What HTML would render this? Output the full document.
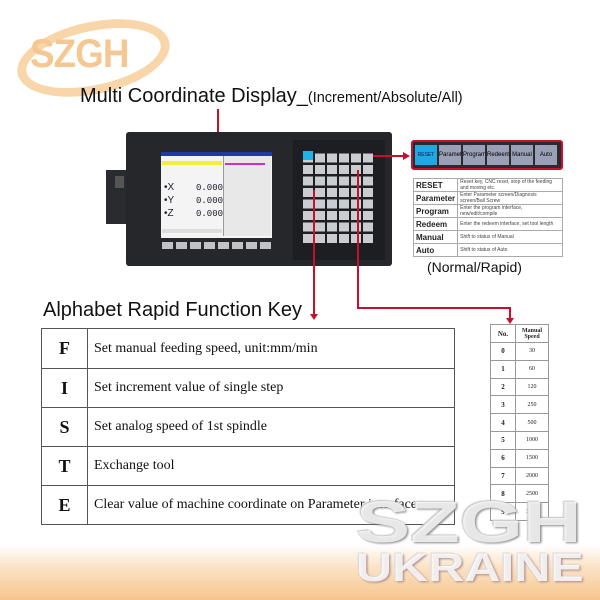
<!DOCTYPE html>
<html><head><meta charset="utf-8"><style>
*{margin:0;padding:0;box-sizing:border-box}
body{width:600px;height:600px;position:relative;overflow:hidden;background:#fff;font-family:"Liberation Sans",sans-serif}
.a{position:absolute}
.red{background:#c8102e}
table{border-collapse:collapse;position:absolute}
.mt td{border:1px solid #555;font-family:"Liberation Serif",serif;color:#111}
.st td{border:1px solid #999;font-family:"Liberation Serif",serif;font-size:6px;text-align:center;color:#222}
.kt td{border:1px solid #aaa;font-size:5px;color:#444;padding:0 2px}
.kt td:first-child{font-size:8px;font-weight:bold;color:#222}
</style></head><body>
<div class="a" style="left:0;top:545px;width:600px;height:55px;background:linear-gradient(#fff,#fbe3c6 40%,#f6c48c)"></div>
<div class="a" style="left:16px;top:22px;width:155px;height:72px;border:9px solid #f8d6aa;border-radius:50%;transform:rotate(-12deg)"></div>
<div class="a" style="left:30px;top:32px;font-size:40px;font-weight:bold;color:#f5c792;letter-spacing:-1px;transform:scaleX(0.92);transform-origin:left">SZGH</div>
<div class="a" style="left:80px;top:85px;font-size:20px;color:#111;white-space:nowrap">Multi Coordinate Display_<span style="font-size:14.5px">(Increment/Absolute/All)</span></div>
<div class="a red" style="left:217px;top:109px;width:2px;height:44px"></div>
<div class="a" style="left:106px;top:170px;width:40px;height:54px;background:#2a2b2f"></div>
<div class="a" style="left:115px;top:176px;width:9px;height:12px;background:#555"></div>
<div class="a" style="left:136px;top:178px;width:4px;height:8px;background:#888;border-radius:2px"></div>
<div class="a" style="left:134px;top:199px;width:6px;height:16px;background:#999"></div>
<div class="a" style="left:126px;top:132px;width:266px;height:134px;background:#26272b;border-radius:3px"></div>
<div class="a" style="left:293px;top:140px;width:92px;height:120px;background:#1d1e21"></div>
<div class="a" style="left:161px;top:152px;width:111px;height:86px;background:#f4f4f4;border-top:4px solid #2038a8"></div>
<div class="a" style="left:162px;top:161px;width:60px;height:4px;background:#f2ef3c"></div>
<div class="a" style="left:223px;top:156px;width:48px;height:80px;background:#e8e8e8;border-left:1px solid #999"></div>
<div class="a" style="left:225px;top:163px;width:40px;height:2px;background:#d030c0"></div>
<div class="a" style="left:164px;top:181px;font-size:10px;line-height:13px;color:#223">•X<br>•Y<br>•Z</div>
<div class="a" style="left:196px;top:182px;font-size:9px;line-height:13px;font-family:'Liberation Mono',monospace;color:#223">0.000<br>0.000<br>0.000</div>
<div class="a" style="left:162px;top:229px;width:60px;height:4px;background:#ddd"></div>
<div class="a" style="left:162px;top:242px;width:110px;height:7px;background:repeating-linear-gradient(90deg,#bfc3c8 0 11px,#26272b 11px 14px)"></div>
<div class="a" style="left:303px;top:151px;width:70px;height:92px;background:repeating-linear-gradient(90deg,transparent 0 10px,#1d1e21 10px 12px),repeating-linear-gradient(0deg,transparent 0 9px,#1d1e21 9px 11.5px),#c9ccd0"></div>
<div class="a" style="left:303px;top:151px;width:10px;height:9px;background:#1fb4e8"></div>
<div class="a red" style="left:373px;top:155px;width:33px;height:2px"></div>
<div class="a" style="left:403px;top:152px;width:0;height:0;border-left:7px solid #c8102e;border-top:4px solid transparent;border-bottom:4px solid transparent"></div>
<div class="a" style="left:411px;top:140px;width:152px;height:30px;background:#2a2a30;border:2px solid #c8102e;border-radius:3px"></div>
<div class="a" style="left:415px;top:145px;display:flex;gap:2px">
<div style="width:22px;height:20px;background:#1fa8e2;font-size:5px;line-height:20px;text-align:center;color:#114">RESET</div>
<div style="width:22px;height:20px;background:#9aa0b6;font-size:6px;line-height:20px;text-align:center;overflow:hidden">Parameter</div>
<div style="width:22px;height:20px;background:#9aa0b6;font-size:6px;line-height:20px;text-align:center;overflow:hidden">Program</div>
<div style="width:22px;height:20px;background:#9aa0b6;font-size:6px;line-height:20px;text-align:center">Redeem</div>
<div style="width:22px;height:20px;background:#9aa0b6;font-size:6px;line-height:20px;text-align:center">Manual</div>
<div style="width:22px;height:20px;background:#9aa0b6;font-size:6px;line-height:20px;text-align:center">Auto</div>
</div>
<table class="kt" style="left:413px;top:178px;width:150px">
<tr style="height:13px"><td style="width:40px">RESET</td><td>Reset key, CNC reset, stop of the feeding and moving etc.</td></tr>
<tr style="height:13px"><td>Parameter</td><td>Enter Parameter screen/Diagnosis screen/Ball Screw</td></tr>
<tr style="height:13px"><td>Program</td><td>Enter the program interface, new/edit/compile</td></tr>
<tr style="height:13px"><td>Redeem</td><td>Enter the redeem interface, set tool length</td></tr>
<tr style="height:13px"><td>Manual</td><td>Shift to status of Manual</td></tr>
<tr style="height:13px"><td>Auto</td><td>Shift to status of Auto</td></tr>
</table>
<div class="a" style="left:427px;top:259px;font-size:14px;color:#111">(Normal/Rapid)</div>
<div class="a red" style="left:313px;top:190px;width:2px;height:125px"></div>
<div class="a" style="left:310px;top:314px;border-top:6px solid #c8102e;border-left:4px solid transparent;border-right:4px solid transparent"></div>
<div class="a red" style="left:357px;top:170px;width:2px;height:139px"></div>
<div class="a red" style="left:357px;top:307px;width:154px;height:2px"></div>
<div class="a red" style="left:509px;top:307px;width:2px;height:12px"></div>
<div class="a" style="left:506px;top:318px;border-top:6px solid #c8102e;border-left:4px solid transparent;border-right:4px solid transparent"></div>
<div class="a" style="left:43px;top:299px;font-size:20px;color:#111">Alphabet Rapid Function Key</div>
<table class="mt" style="left:41px;top:328px;width:414px">
<tr style="height:40px"><td style="width:46px;text-align:center;font-weight:bold;font-size:18px">F</td><td style="padding-left:6px;font-size:14px">Set manual feeding speed, unit:mm/min</td></tr>
<tr style="height:39px"><td style="text-align:center;font-weight:bold;font-size:18px">I</td><td style="padding-left:6px;font-size:14px">Set increment value of single step</td></tr>
<tr style="height:39px"><td style="text-align:center;font-weight:bold;font-size:18px">S</td><td style="padding-left:6px;font-size:14px">Set analog speed of 1st spindle</td></tr>
<tr style="height:39px"><td style="text-align:center;font-weight:bold;font-size:18px">T</td><td style="padding-left:6px;font-size:14px">Exchange tool</td></tr>
<tr style="height:39px"><td style="text-align:center;font-weight:bold;font-size:18px">E</td><td style="padding-left:6px;font-size:14px">Clear value of machine coordinate on Parameter interface</td></tr>
</table>
<table class="st" style="left:490px;top:324px;width:59px">
<tr style="height:18px"><td style="width:25px;font-weight:bold;font-size:7px">No.</td><td style="font-weight:bold">Manual Speed</td></tr>
<tr style="height:17.8px"><td style="font-weight:bold;font-size:7px">0</td><td>30</td></tr>
<tr style="height:17.8px"><td style="font-weight:bold;font-size:7px">1</td><td>60</td></tr>
<tr style="height:17.8px"><td style="font-weight:bold;font-size:7px">2</td><td>120</td></tr>
<tr style="height:17.8px"><td style="font-weight:bold;font-size:7px">3</td><td>250</td></tr>
<tr style="height:17.8px"><td style="font-weight:bold;font-size:7px">4</td><td>500</td></tr>
<tr style="height:17.8px"><td style="font-weight:bold;font-size:7px">5</td><td>1000</td></tr>
<tr style="height:17.8px"><td style="font-weight:bold;font-size:7px">6</td><td>1500</td></tr>
<tr style="height:17.8px"><td style="font-weight:bold;font-size:7px">7</td><td>2000</td></tr>
<tr style="height:17.8px"><td style="font-weight:bold;font-size:7px">8</td><td>2500</td></tr>
<tr style="height:17.8px"><td style="font-weight:bold;font-size:7px">9</td><td>3000</td></tr>
</table>
<div class="a" style="left:356px;top:494px;font-size:58px;font-weight:bold;color:rgba(255,255,255,0.8);text-shadow:1px 1px 2px #888,-1px -1px 1px #ccc;line-height:58px;transform:scaleX(1.4);transform-origin:left">SZGH</div>
<div class="a" style="left:356px;top:548px;font-size:40px;font-weight:bold;color:rgba(255,255,255,0.85);text-shadow:1px 1px 2px #a88,-1px -1px 1px #ddd;line-height:40px;transform:scaleX(1.25);transform-origin:left">UKRAINE</div>
</body></html>
